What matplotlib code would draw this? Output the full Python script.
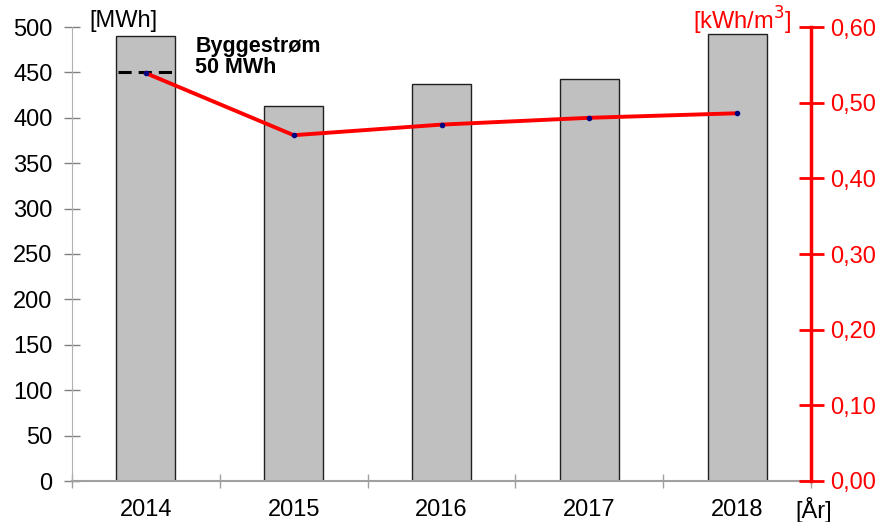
import matplotlib
matplotlib.use("Agg")
import matplotlib.pyplot as plt
from matplotlib.ticker import FuncFormatter, FixedLocator

plt.rcParams['font.family'] = ['Liberation Sans', 'DejaVu Sans']

years = ['2014', '2015', '2016', '2017', '2018']
mwh = [490, 413, 437, 443, 492]
kwh_m3 = [0.539, 0.457, 0.471, 0.480, 0.486]
bygg_level = 450

FS = 17

fig = plt.figure(figsize=(8.81, 5.22), dpi=100)
ax = fig.add_axes([72/881, 1-481/522, (811-72)/881, (481-27)/522])
x = list(range(len(years)))
ax.bar(x, mwh, width=0.4, color='#c0c0c0', edgecolor='#202020', linewidth=1.0, zorder=2)
ax.set_xlim(-0.5, len(years)-0.5)
ax.set_ylim(0, 500)
ax.set_yticks(range(0, 501, 50))
ax.tick_params(axis='y', colors='#808080', labelcolor='black', labelsize=FS, length=12,
               width=1, direction='inout', pad=8)
for s in ['top', 'right']:
    ax.spines[s].set_visible(False)
ax.spines['left'].set_color('#b0b0b0')
ax.spines['bottom'].set_color('#a0a0a0')
ax.spines['bottom'].set_linewidth(1.5)

ax.xaxis.set_major_locator(FixedLocator([i + 0.5 for i in range(-1, len(years))]))
ax.xaxis.set_major_formatter(FuncFormatter(lambda v, p: ''))
ax.xaxis.set_minor_locator(FixedLocator(x))
ax.set_xticklabels(years, minor=True)
ax.tick_params(axis='x', which='major', colors='#a0a0a0', length=10, width=1,
               direction='inout')
ax.tick_params(axis='x', which='minor', length=0, labelsize=FS, labelcolor='black', pad=13)

# Byggestrøm dashed marker
ax.hlines(bygg_level, -0.19, 0.19, colors='black', linestyles=(0, (4.3, 2.3)), linewidth=2.2,
          zorder=3)
ax.text(0.335, 467, 'Byggestrøm\n50 MWh', fontsize=15.5, fontweight='bold', va='center',
        ha='left', linespacing=1.05)

ax2 = ax.twinx()
ax2.set_ylim(0, 0.6)
ax2.plot(x, kwh_m3, color='red', linewidth=2.8, marker='o', markersize=3,
         markerfacecolor='#000080', markeredgecolor='#000080', zorder=4)
ax2.set_yticks([i/10 for i in range(7)])
ax2.yaxis.set_major_formatter(FuncFormatter(lambda v, p: f'{v:.2f}'.replace('.', ',')))
for s in ['top', 'left', 'bottom']:
    ax2.spines[s].set_visible(False)
ax2.spines['right'].set_color('red')
ax2.spines['right'].set_linewidth(2.5)
ax2.tick_params(axis='y', colors='red', labelcolor='red', labelsize=FS, direction='inout',
                length=18, width=2, pad=5)

fig.text(89/881, 1-21/522, '[MWh]', fontsize=17, va='center', ha='left')
fig.text(791/881, 1-21/522, '[kWh/m$^3$]', fontsize=17, va='center', ha='right', color='red')
fig.text(795/881, 1-510/522, '[År]', fontsize=17, va='center', ha='left')

fig.savefig('out.png', dpi=100)
